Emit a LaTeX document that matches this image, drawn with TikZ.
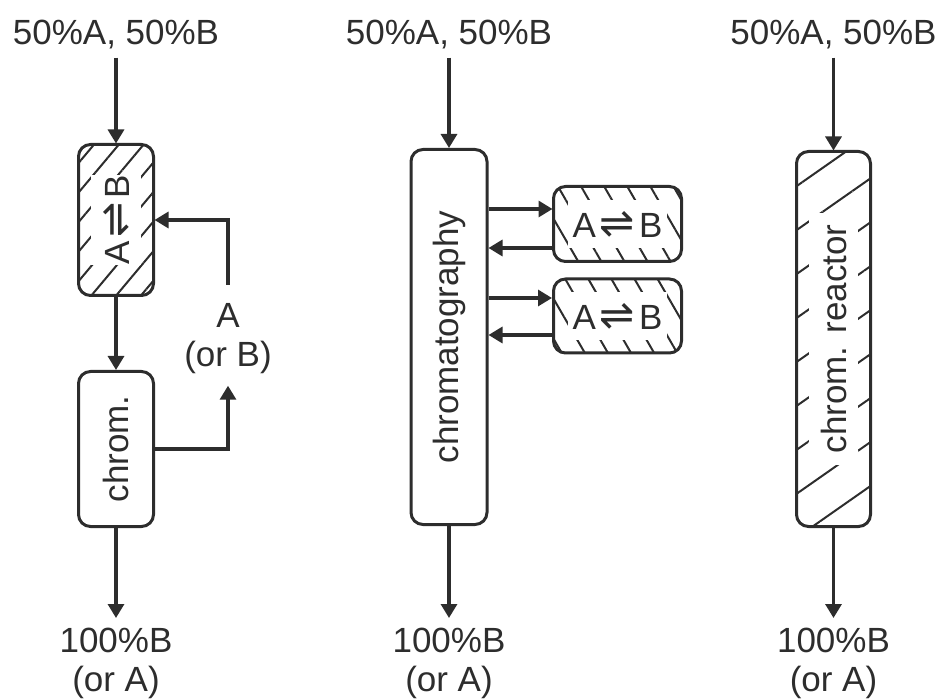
\documentclass[tikz,border=0pt]{standalone}
\usepackage{fontspec}
\setmainfont{Liberation Sans}
\newfontfamily\symfont{DejaVu Sans}
\usetikzlibrary{arrows.meta,patterns.meta}
\definecolor{ink}{RGB}{45,45,45}
\newcommand\rxn{A\kern4pt{\symfont\fontsize{42}{40}\selectfont ⇌}\kern4pt B}
\tikzset{
  % column box
  cbox/.style={rectangle,draw=ink,line width=3pt,rounded corners=12pt,inner sep=0pt,minimum width=75pt},
  % hatched column box (angle, distance)
  hbox/.style 2 args={cbox,pattern={Lines[angle=#1,distance=#2pt,line width=2pt]},pattern color=ink},
  % text on white inside a hatched box
  wtxt/.style={fill=white,text=ink,font=\fontsize{35}{40}\selectfont},
  % plain labels
  lbl/.style={text=ink,font=\fontsize{35}{39}\selectfont,inner sep=0pt},
  % connector
  arr/.style={draw=ink,line width=3.2pt,-{Triangle[length=14pt,width=16pt]}}
}
\begin{document}
\begin{tikzpicture}[x=1pt,y=-1pt]
\useasboundingbox (0,0) rectangle (940,700);
%%%%%%%%%%%%%%%%%%%%%%%%%%%%%%%%%%%%%%% left: reactor, then chrom. with recycle
\node[lbl,anchor=base,inner sep=8pt] (inL) at (116,45) {50\%A, 50\%B};
\node[hbox={50}{19},minimum height=151pt] (rxL) at (116,220) {};
\node[wtxt,rotate=90,inner xsep=0pt,inner ysep=12pt] (rxLt) at (rxL) {\rxn};
\node[cbox,minimum height=155pt] (chL) at (116,449) {};
\node[lbl,rotate=90] (chLt) at (chL) {chrom.};
\node[lbl,align=center,anchor=north] (recyc) at (228,303) {A\\(or B)};
\node[lbl,align=center,anchor=north,inner sep=10pt] (outL) at (116,618) {100\%B\\(or A)};
\draw[arr] (inL.south) -- (rxL.north);
\draw[arr] (rxL.south) -- (chL.north);
\draw[arr] (chL.east) -| ([yshift=-12pt]recyc.south);
\draw[arr] ([yshift=18pt]recyc.north) |- (rxL.east);
\draw[arr] (chL.south) -- (outL.north);
%%%%%%%%%%%%%%%%%%%%%%%%%%%%%%%%%%%%%%% middle: chromatography with side reactors
\node[lbl,anchor=base,inner sep=8pt] (inM) at (449,45) {50\%A, 50\%B};
\node[cbox,minimum height=375pt,minimum width=76pt] (chM) at (449,337) {};
\node[lbl,rotate=90] (chMt) at (chM) {chromatography};
\node[hbox={120}{20},minimum width=128pt,minimum height=75pt] (rxA) at (617.5,224) {};
\node[wtxt,inner xsep=5pt,inner ysep=11pt] (rxAt) at (rxA) {\rxn};
\node[hbox={120}{20},minimum width=128pt,minimum height=74pt] (rxB) at (617.5,316) {};
\node[wtxt,inner xsep=5pt,inner ysep=11pt] (rxBt) at (rxB) {\rxn};
\node[lbl,align=center,anchor=north,inner sep=10pt] (outM) at (449,618) {100\%B\\(or A)};
\draw[arr] (inM.south) -- (chM.north);
\draw[arr] (chM.east |- 0,209) -- (rxA.west |- 0,209);
\draw[arr] (rxA.west |- 0,248) -- (chM.east |- 0,248);
\draw[arr] (chM.east |- 0,298) -- (rxB.west |- 0,298);
\draw[arr] (rxB.west |- 0,335) -- (chM.east |- 0,335);
\draw[arr] (chM.south) -- (outM.north);
%%%%%%%%%%%%%%%%%%%%%%%%%%%%%%%%%%%%%%% right: chromatographic reactor
\node[lbl,anchor=base,inner sep=8pt] (inR) at (833.5,45) {50\%A, 50\%B};
\node[hbox={35}{36},minimum height=375pt,minimum width=74pt] (rxR) at (833.5,339) {};
\node[wtxt,rotate=90,inner xsep=12pt,inner ysep=12pt] (rxRt) at (rxR) {chrom. reactor};
\node[lbl,align=center,anchor=north,inner sep=10pt] (outR) at (833.5,618) {100\%B\\(or A)};
\draw[arr] (inR.south) -- (rxR.north);
\draw[arr] (rxR.south) -- (outR.north);
\end{tikzpicture}
\end{document}
